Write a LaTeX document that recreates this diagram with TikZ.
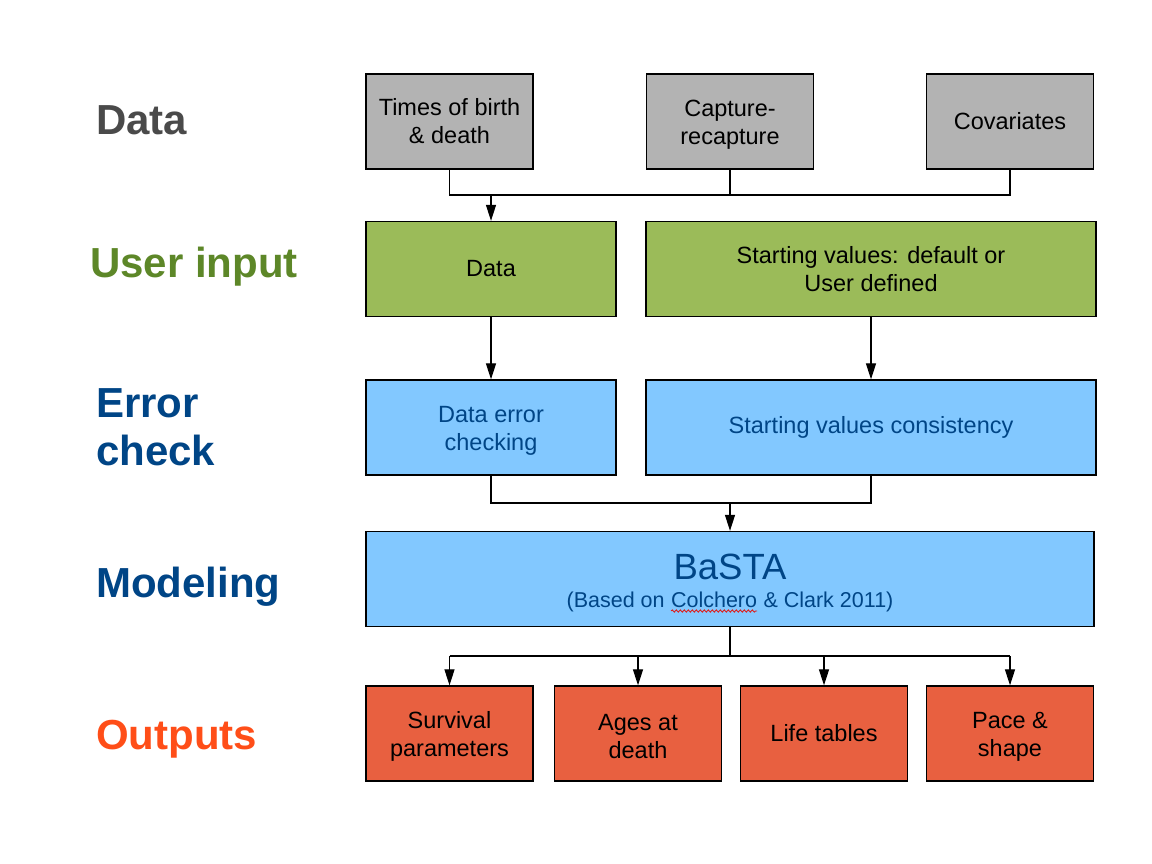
\documentclass[tikz,border=0pt]{standalone}
\usepackage{fontspec}
\setmainfont{Liberation Sans}
\usetikzlibrary{arrows.meta,decorations.pathmorphing}
\definecolor{graybox}{RGB}{179,179,179}
\definecolor{greenbox}{RGB}{155,187,89}
\definecolor{bluebox}{RGB}{130,200,255}
\definecolor{orangebox}{RGB}{232,96,64}
\definecolor{bluetext}{RGB}{0,69,134}
\definecolor{greenlabel}{RGB}{93,135,40}
\definecolor{graylabel}{RGB}{74,74,74}
\definecolor{orangelabel}{RGB}{255,78,24}
\definecolor{wavered}{RGB}{220,30,30}
\newcommand\redwave[1]{\tikz[baseline=(rw.base)]{\node[inner sep=0pt,outer sep=0pt,text=bluetext] (rw) {#1};
  \draw[draw=wavered,line width=0.9pt,decorate,decoration={snake,amplitude=1.1pt,segment length=4pt}] ([yshift=-4pt]rw.base west) -- ([yshift=-4pt]rw.base east);}}
\newcommand\upstrut{\rule{0pt}{22pt}}
\begin{document}
\begin{tikzpicture}[x=1pt,y=-1pt,
  box/.style={draw=black,line width=1.3pt,align=center,inner sep=0pt,minimum height=95pt,
    font=\fontsize{23.5}{28}\selectfont,text=black},
  gbox/.style={box,fill=graybox,minimum width=167pt},
  grbox/.style={box,fill=greenbox,minimum width=250pt},
  blbox/.style={box,fill=bluebox,text=bluetext},
  orbox/.style={box,fill=orangebox,minimum width=167pt},
  lab/.style={anchor=base west,inner sep=0pt,font=\fontsize{42}{48}\selectfont\bfseries},
  conn/.style={draw=black,line width=1.2pt},
  arr/.style={conn,-{Triangle[length=16pt,width=10pt]}}]
\useasboundingbox[fill=white] (0,0) rectangle (1152,864);

% side labels
\node[lab,text=graylabel] (lData) at (96,135) {Data};
\node[lab,text=greenlabel] (lUser) at (90,277) {User input};
\node[lab,text=bluetext] (lErr1) at (96,417) {Error};
\node[lab,text=bluetext] (lErr2) at (96,465) {check};
\node[lab,text=bluetext] (lMod) at (96,597) {Modeling};
\node[lab,text=orangelabel] (lOut) at (96,749) {Outputs};

% data row
\node[gbox] (tb) at (449.5,121.5) {Times of birth\\\& death};
\node[gbox] (cr) at (730,121.5) {\upstrut Capture-\\recapture};
\node[gbox] (cov) at (1010,121.5) {Covariates};

% user input row
\node[grbox] (dat) at (491,269) {Data};
\node[box,fill=greenbox,minimum width=450pt] (sv) at (871,269) {Starting values: default or\\User defined};

% error check row
\node[blbox,minimum width=250pt] (dec) at (491,427.5) {\upstrut Data error\\checking};
\node[blbox,minimum width=450pt] (svc) at (871,427.5) {Starting values consistency};

% modeling
\node[blbox,minimum width=728pt] (basta) at (730,579) {};
\node[anchor=base,inner sep=0pt,text=bluetext,font=\fontsize{36.5}{40}\selectfont] (bastaT) at (730,579) {BaSTA};
\node[anchor=base,inner sep=0pt,text=bluetext,font=\fontsize{21.5}{26}\selectfont] (bastaS) at (730,607) {(Based on \redwave{Colchero} \& Clark 2011)};

% outputs
\node[orbox] (o1) at (449.5,733.5) {\upstrut Survival\\parameters};
\node[orbox] (o2) at (638,733.5) {\upstrut Ages at\\death};
\node[orbox] (o3) at (824,733.5) {Life tables};
\node[orbox] (o4) at (1010,733.5) {\upstrut Pace \&\\shape};

% buses
\coordinate (busA) at (0,195);
\coordinate (busB) at (0,503);
\coordinate (busC) at (0,656);

\draw[conn] (tb.south) -- (tb.south |- busA) -- (cov.south |- busA) -- (cov.south);
\draw[conn] (cr.south) -- (cr.south |- busA);
\draw[arr] (dat.north |- busA) -- (dat.north);

\draw[arr] (dat.south) -- (dec.north);
\draw[arr] (sv.south) -- (svc.north);

\draw[conn] (dec.south) -- (dec.south |- busB) -- (svc.south |- busB) -- (svc.south);
\draw[arr] (basta.north |- busB) -- (basta.north);

\draw[conn] (basta.south) -- (basta.south |- busC);
\draw[conn] (o1.north |- busC) -- (o4.north |- busC);
\draw[arr] (o1.north |- busC) -- (o1.north);
\draw[arr] (o2.north |- busC) -- (o2.north);
\draw[arr] (o3.north |- busC) -- (o3.north);
\draw[arr] (o4.north |- busC) -- (o4.north);
\end{tikzpicture}
\end{document}
